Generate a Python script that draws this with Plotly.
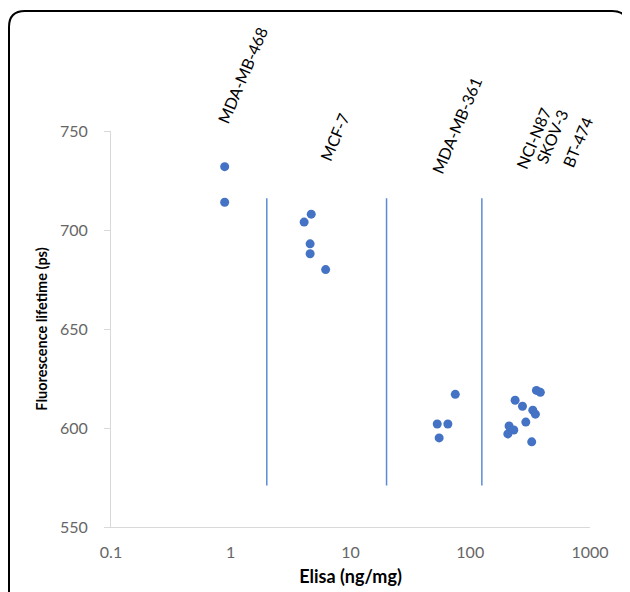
import plotly.graph_objects as go
import math

# Data (Elisa ng/mg vs fluorescence lifetime ps)
mda468_x = [0.89, 0.89]
mda468_y = [732, 714]
mcf7_x = [4.7, 4.1, 4.6, 4.6, 6.2]
mcf7_y = [708, 704, 693, 688, 680]
mda361_x = [75, 53, 65, 55]
mda361_y = [617, 602, 602, 595]
her2_x = [357, 385, 237, 273, 333, 350, 291, 211, 231, 206, 326]
her2_y = [619, 618, 614, 611, 609, 607, 603, 601, 599, 597, 593]

divider_x = [2, 20, 125]
divider_y = [571, 716]

cell_lines = ["MDA-MB-468", "MCF-7", "MDA-MB-361", "NCI-N87", "SKOV-3", "BT-474"]

x_ticks = [0.1, 1, 10, 100, 1000]
x_ticktext = ["0.1", "1", "10", "100", "1000"]
y_ticks = [550, 600, 650, 700, 750]

# label placement (style): x in data units, y as paper fraction
label_pos = [(1.24, 1.141), (7.35, 0.987), (77, 1.013), (334, 0.982), (482, 0.985), (778, 0.972)]

blue = "#4472C4"
font = "Lato"
tick_col = "#666666"

fig = go.Figure()
for xd in divider_x:
    fig.add_trace(go.Scatter(x=[xd, xd], y=divider_y, mode="lines",
                             line=dict(color="#5B8BD6", width=1.5),
                             showlegend=False, hoverinfo="skip"))

all_x = mda468_x + mcf7_x + mda361_x + her2_x
all_y = mda468_y + mcf7_y + mda361_y + her2_y
fig.add_trace(go.Scatter(x=all_x, y=all_y, mode="markers",
                         marker=dict(color=blue, size=9),
                         showlegend=False))

for t, (lx, ly) in zip(cell_lines, label_pos):
    fig.add_annotation(x=math.log10(lx), y=ly, xref="x", yref="paper", text=t,
                       showarrow=False, textangle=-67, xanchor="center", yanchor="middle",
                       font=dict(family=font, size=16, color="#000000"))

W, H = 622, 584
ml, mr, mt, mb = 103, 40, 123, 65
pw, ph = W - ml - mr, H - mt - mb
def px(x):
    return (x - ml) / pw
def py(y):
    return (H - mb - y) / ph
# rounded outer frame
l, t, r, b = px(1), py(3), px(620), py(600)
rx, ry = 16 / pw, 16 / ph
path = (f"M {l},{b} L {l},{t-ry} Q {l},{t} {l+rx},{t} L {r-rx},{t} "
        f"Q {r},{t} {r},{t-ry} L {r},{b}")
fig.add_shape(type="path", path=path, xref="paper", yref="paper",
              line=dict(color="#000000", width=2))

fig.update_xaxes(type="log", range=[-1, 3], tickvals=x_ticks, ticktext=x_ticktext,
                 showgrid=False, zeroline=False, showline=True, linecolor="#D9D9D9",
                 linewidth=1, ticks="", ticklabelstandoff=11, automargin=False,
                 tickfont=dict(family=font, size=16, color=tick_col),
                 title=dict(text="<b>Elisa (ng/mg)</b>", font=dict(family=font, size=18, color="#000000"),
                            standoff=10))
fig.update_yaxes(range=[550, 750], tickvals=y_ticks, showgrid=False, zeroline=False,
                 showline=True, linecolor="#D9D9D9", linewidth=1, ticks="outside",
                 ticklen=6, tickcolor="#D9D9D9", ticklabelstandoff=13, automargin=False,
                 tickfont=dict(family=font, size=16, color=tick_col),
                 title=dict(text="<b>Fluorescence lifetime (ps)</b>",
                            font=dict(family=font, size=14.5, color="#000000"), standoff=8))
fig.update_layout(width=W, height=H, margin=dict(l=ml, r=mr, t=mt, b=mb),
                  plot_bgcolor="white", paper_bgcolor="white")
fig.write_html("out.html")
